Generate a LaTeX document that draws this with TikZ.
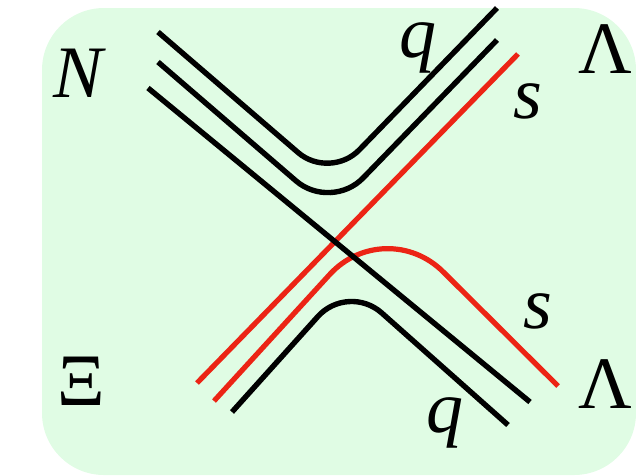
\documentclass[tikz,border=0pt]{standalone}
\usepackage{fontspec}
\setmainfont{Liberation Serif}
\usetikzlibrary{positioning}
\definecolor{mintbg}{HTML}{E0FCE4}
\definecolor{strangered}{HTML}{EC2415}

\begin{document}
\begin{tikzpicture}[x=1pt,y=-1pt,
  every node/.style={font=\fontsize{74}{80}\selectfont,inner sep=0pt},
  lbl/.style={anchor=base},
  quark/.style={line width=5.4pt,color=black},
  squark/.style={line width=5.2pt,color=strangered}
]
\useasboundingbox (0,0) rectangle (636,475);
\fill[mintbg,rounded corners=62pt] (42,8) rectangle (636,475);

% red lines first, the straight black one crosses over them
\draw[squark] (518,54) -- (197,383);
\draw[squark,rounded corners=82pt] (214,401) -- (385,214) -- (558,386);

\draw[quark,rounded corners=42pt] (158,32) -- (330,180) -- (497,8);
\draw[quark,rounded corners=46pt] (158,62) -- (331,211) -- (497,40);
\draw[quark,rounded corners=45pt] (232,412) -- (348,283) -- (508,425);
\draw[quark] (148,88) -- (530,402);

\node[lbl] (nuc) at (80,97) {\textit{N}};
\node[lbl] (lamtop) at (605,73) {Λ};
\node[lbl] (qtop) at (418,57) {\textit{q}};
\node[lbl] (stop) at (528,118) {\textit{s}};
\node[lbl] (sbot) at (538,328) {\textit{s}};
\node[lbl] (lambot) at (605,408) {Λ};
\node[lbl] (qbot) at (445,432) {\textit{q}};
\node[lbl] (xi) at (81,405) {Ξ};
\end{tikzpicture}
\end{document}
